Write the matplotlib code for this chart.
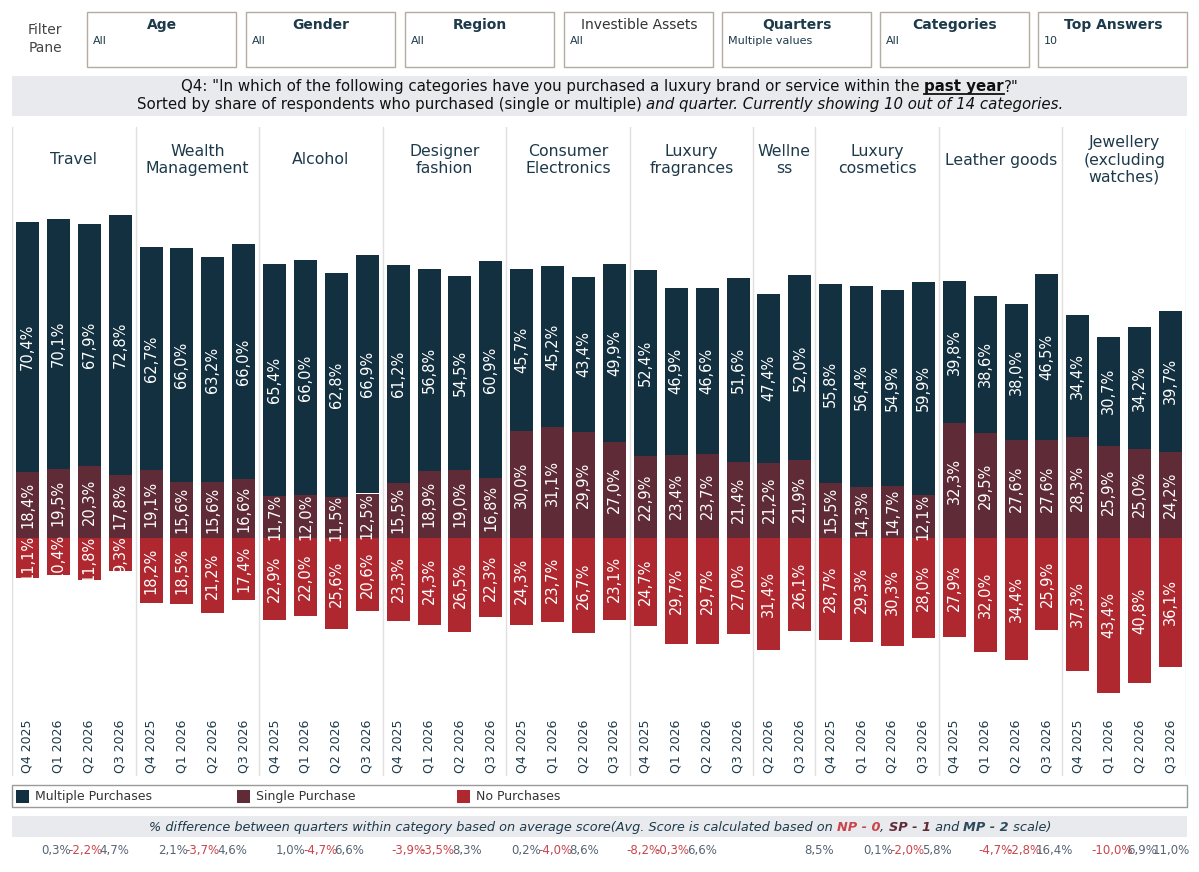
import matplotlib
matplotlib.use("Agg")
import matplotlib.pyplot as plt
from matplotlib.patches import Rectangle
from matplotlib.lines import Line2D

# ---------------- data ----------------
categories = ["Travel", "Wealth\nManagement", "Alcohol", "Designer\nfashion",
              "Consumer\nElectronics", "Luxury\nfragrances", "Wellne\nss",
              "Luxury\ncosmetics", "Leather goods", "Jewellery\n(excluding\nwatches)"]
quarters = ["Q4 2025", "Q1 2026", "Q2 2026", "Q3 2026"]
cat_quarters = [quarters] * 6 + [["Q2 2026", "Q3 2026"]] + [quarters] * 3

multiple = [[70.4, 70.1, 67.9, 72.8], [62.7, 66.0, 63.2, 66.0], [65.4, 66.0, 62.8, 66.9],
            [61.2, 56.8, 54.5, 60.9], [45.7, 45.2, 43.4, 49.9], [52.4, 46.9, 46.6, 51.6],
            [47.4, 52.0], [55.8, 56.4, 54.9, 59.9], [39.8, 38.6, 38.0, 46.5],
            [34.4, 30.7, 34.2, 39.7]]
single = [[18.4, 19.5, 20.3, 17.8], [19.1, 15.6, 15.6, 16.6], [11.7, 12.0, 11.5, 12.5],
          [15.5, 18.9, 19.0, 16.8], [30.0, 31.1, 29.9, 27.0], [22.9, 23.4, 23.7, 21.4],
          [21.2, 21.9], [15.5, 14.3, 14.7, 12.1], [32.3, 29.5, 27.6, 27.6],
          [28.3, 25.9, 25.0, 24.2]]
no_purchase = [[11.1, 10.4, 11.8, 9.3], [18.2, 18.5, 21.2, 17.4], [22.9, 22.0, 25.6, 20.6],
               [23.3, 24.3, 26.5, 22.3], [24.3, 23.7, 26.7, 23.1], [24.7, 29.7, 29.7, 27.0],
               [31.4, 26.1], [28.7, 29.3, 30.3, 28.0], [27.9, 32.0, 34.4, 25.9],
               [37.3, 43.4, 40.8, 36.1]]
# % difference vs previous quarter (4 slots per category in the difference row)
diff_values = [[None, 0.3, -2.2, 4.7], [None, 2.1, -3.7, 4.6], [None, 1.0, -4.7, 6.6],
               [None, -3.9, -3.5, 8.3], [None, 0.2, -4.0, 8.6], [None, -8.2, -0.3, 6.6],
               [None, None, None, 8.5], [None, 0.1, -2.0, 5.8], [None, -4.7, -2.8, 16.4],
               [None, -10.0, 6.9, 11.0]]

filter_titles = ["Age", "Gender", "Region", "Investible Assets", "Quarters", "Categories", "Top Answers"]
filter_values = ["All", "All", "All", "All", "Multiple values", "All", "10"]
legend_labels = ["Multiple Purchases", "Single Purchase", "No Purchases"]

# ---------------- style ----------------
C_MP = "#12303f"
C_SP = "#5f2b37"
C_NP = "#b0282f"
C_TXT = "#1d3a4a"
C_SEP = "#e0e0e0"
C_BAND = "#e9eaee"
C_POS = "#566573"
C_NEG = "#c9454c"

W, H = 1199, 872
fig = plt.figure(figsize=(W / 100, H / 100), dpi=100)
fig.patch.set_facecolor("white")


def fx(x):
    return x / W


def fy(y):
    return 1 - y / H


def add_axes_px(left, top, right, bottom):
    return fig.add_axes([fx(left), fy(bottom), (right - left) / W, (bottom - top) / H])


def rect_px(x0, y0, x1, y1, **kw):
    fig.patches.append(Rectangle((fx(x0), fy(y1)), (x1 - x0) / W, (y1 - y0) / H,
                                 transform=fig.transFigure, figure=fig, **kw))


def fmt(v):
    return f"{v:.1f}".replace(".", ",") + "%"


# ---------------- filter pane ----------------
fig.text(fx(45), fy(39), "Filter\nPane", ha="center", va="center", fontsize=10,
         color="#444444", linespacing=1.35)
box_lefts = [87, 246, 405, 564, 722, 880, 1038]
for bl, t, v in zip(box_lefts, filter_titles, filter_values):
    rect_px(bl, 12, bl + 149, 67, facecolor="white", edgecolor="#b3ad9f", lw=1)
    weight = "normal" if t == "Investible Assets" else "bold"
    fig.text(fx(bl + 75), fy(25), t, ha="center", va="center", fontsize=10,
             fontweight=weight, color=C_TXT if weight == "bold" else "#333333")
    fig.text(fx(bl + 6), fy(41), v, ha="left", va="center", fontsize=8, color=C_TXT)

# ---------------- mixed style text helper ----------------
renderer = fig.canvas.get_renderer()


def text_width(s, **kw):
    t1 = fig.text(0, 0, s + "|", **kw)
    t2 = fig.text(0, 0, "|", **kw)
    w = t1.get_window_extent(renderer).width - t2.get_window_extent(renderer).width
    t1.remove()
    t2.remove()
    return w


def mixed_line(pieces, cx, baseline, fontsize):
    widths = [text_width(s, fontsize=fontsize, **kw) for s, kw, _ in pieces]
    x = cx - sum(widths) / 2
    for (s, kw, underline), w in zip(pieces, widths):
        fig.text(fx(x), fy(baseline), s, ha="left", va="baseline", fontsize=fontsize, **kw)
        if underline:
            fig.lines.append(Line2D([fx(x), fx(x + w)], [fy(baseline + 2.5), fy(baseline + 2.5)],
                                    transform=fig.transFigure, color=kw.get("color", "k"), lw=1.3))
        x += w


# ---------------- title band ----------------
rect_px(12, 76, 1187, 116, facecolor=C_BAND, edgecolor="none")
base = dict(color="#111111")
mixed_line([
    ('Q4: "In which of the following categories have you purchased a luxury brand or service within the ', base, False),
    ("past year", dict(color="#111111", fontweight="bold"), True),
    ('?"', base, False)], 600, 91.5, 10.8)
mixed_line([
    ("Sorted by share of respondents who purchased (single or multiple) ", base, False),
    ("and quarter. Currently showing 10 out of 14 categories.", dict(color="#111111", style="italic"), False)],
    600, 108.5, 10.8)

# ---------------- main chart ----------------
ax = add_axes_px(12, 127, 1186, 776)
px_per_unit = 3.56
ymax = (538 - 127) / px_per_unit
ymin = -(776 - 538) / px_per_unit
ax.set_ylim(ymin, ymax)

pos = 0
boundaries = [-0.5]
for ci, cat in enumerate(categories):
    qs = cat_quarters[ci]
    xs = list(range(pos, pos + len(qs)))
    mp = multiple[ci]
    sp = single[ci]
    npv = no_purchase[ci]
    ax.bar(xs, sp, width=0.745, color=C_SP, zorder=2)
    ax.bar(xs, mp, bottom=sp, width=0.745, color=C_MP, zorder=2)
    ax.bar(xs, [-v for v in npv], width=0.745, color=C_NP, zorder=2)
    for x, m, s, n, q in zip(xs, mp, sp, npv, qs):
        ax.text(x, s + m / 2, fmt(m), rotation=90, ha="center", va="center",
                color="white", fontsize=10.5, zorder=3)
        ax.text(x, s / 2, fmt(s), rotation=90, ha="center", va="center",
                color="white", fontsize=10.5, zorder=3)
        ax.text(x, -n / 2, fmt(n), rotation=90, ha="center", va="center",
                color="white", fontsize=10.5, zorder=3)
        ax.text(x, 0.005, q, rotation=90, ha="center", va="bottom", color=C_TXT,
                fontsize=9, transform=ax.get_xaxis_transform())
    center = (xs[0] + xs[-1]) / 2
    ax.text(center, (776 - 160) / 649, cat, ha="center", va="center", fontsize=11.3,
            color=C_TXT, transform=ax.get_xaxis_transform(), linespacing=1.2)
    pos += len(qs)
    boundaries.append(pos - 0.5)

ax.set_xlim(-0.5, pos - 0.5)
for b in boundaries:
    ax.axvline(b, color=C_SEP, lw=1, zorder=1)
ax.axis("off")

# ---------------- legend ----------------
rect_px(12, 785, 1187, 807, facecolor="white", edgecolor="#9a9a9a", lw=1)
for lx, lab, col in zip([16, 237, 457], legend_labels, [C_MP, C_SP, C_NP]):
    rect_px(lx, 789.5, lx + 13, 802.5, facecolor=col, edgecolor="none")
    fig.text(fx(lx + 19), fy(796.5), lab, ha="left", va="center", fontsize=9, color="#333333")

# ---------------- difference band ----------------
rect_px(12, 816, 1187, 837, facecolor=C_BAND, edgecolor="none")
ital = dict(color=C_TXT, style="italic")
mixed_line([
    ("% difference between quarters within category based on average score(Avg. Score is calculated based on ", ital, False),
    ("NP - 0", dict(color=C_NEG, style="italic", fontweight="bold"), False),
    (", ", ital, False),
    ("SP - 1", dict(color=C_SP, style="italic", fontweight="bold"), False),
    (" and ", ital, False),
    ("MP - 2", dict(color="#2d4a5a", style="italic", fontweight="bold"), False),
    (" scale)", ital, False)], 600, 830.5, 9.3)

axd = add_axes_px(12, 838, 1186, 862)
axd.set_xlim(-0.5, 39.5)
axd.set_ylim(0, 1)
axd.axis("off")
slot = 0
for ci, vals in enumerate(diff_values):
    for k, v in enumerate(vals):
        if v is not None:
            axd.text(slot + k, 0.5, fmt(v), ha="center", va="center", fontsize=8.5,
                     color=C_NEG if v < 0 else C_POS)
    slot += len(vals)

fig.savefig("out.png", dpi=100)
